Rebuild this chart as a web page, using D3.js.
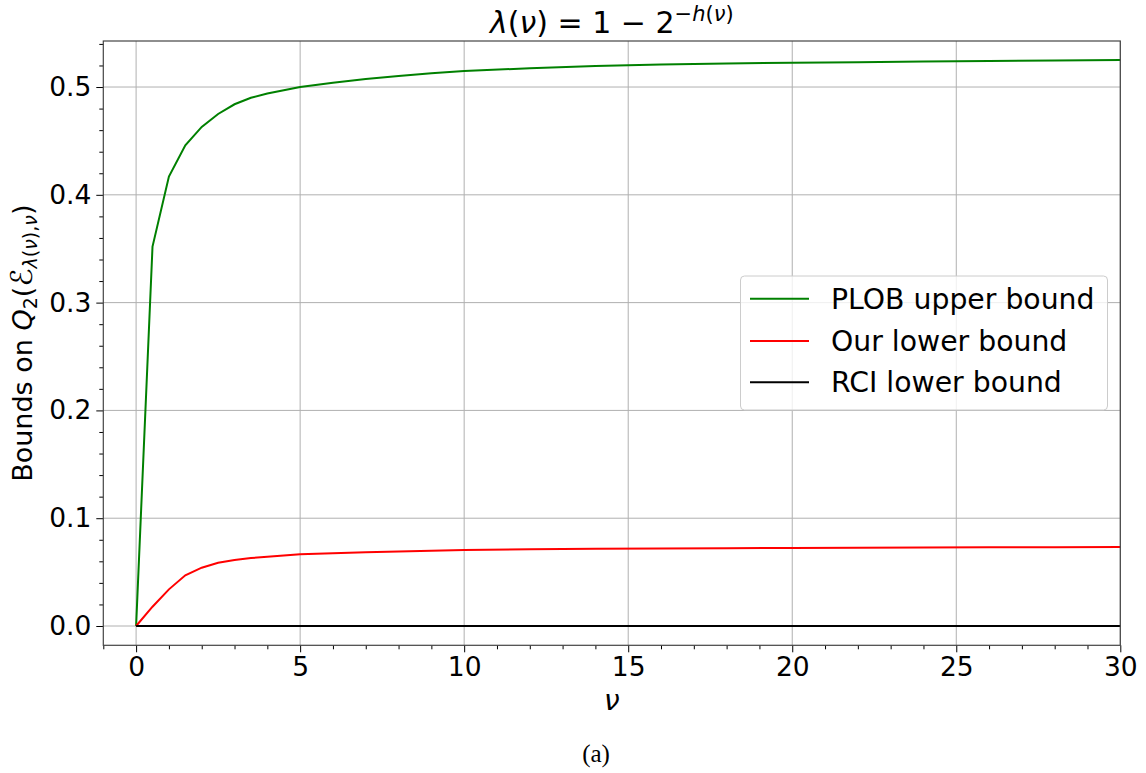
<!DOCTYPE html>
<html><head><meta charset="utf-8">
<script src="https://cdn.jsdelivr.net/npm/d3@7"></script>
<style>
html,body{margin:0;padding:0;background:#fff;}
svg{display:block;}
text{fill:#000;}
</style></head>
<body>
<svg id="c" width="1146" height="773" font-family="DejaVu Sans, sans-serif"></svg>
<script>
const nu = [0,0.5,1,1.5,2,2.5,3,3.5,4,4.5,5,6,7,8,9,10,12,14,16,18,20,22,24,26,28,30];
const plob = [0,0.352,0.417,0.446,0.463,0.475,0.484,0.490,0.494,0.497,0.500,0.504,0.5074,0.5102,0.5127,0.5148,0.5175,0.5195,0.5208,0.5218,0.5225,0.5231,0.5237,0.5242,0.5246,0.5250];
const ours = [0,0.0179,0.034,0.047,0.0541,0.0587,0.0612,0.063,0.0642,0.0655,0.0665,0.0676,0.0684,0.0692,0.0698,0.0705,0.0711,0.0716,0.0719,0.0722,0.0724,0.0726,0.0728,0.073,0.0731,0.0733];
const rci = [0,0,0,0,0,0,0,0,0,0,0,0,0,0,0,0,0,0,0,0,0,0,0,0,0,0];
const xTicks = [0,5,10,15,20,25,30];
const yTicks = [0,0.1,0.2,0.3,0.4,0.5];
const seriesNames = ["PLOB upper bound","Our lower bound","RCI lower bound"];
const seriesColors = ["#008000","#ff0000","#000000"];

const svg = d3.select("#c");
const L=103.3, R=1120.3, T=41, B=645.3;
const x = d3.scaleLinear().domain([-1,30]).range([L,R]);
const y = d3.scaleLinear().domain([-0.0179,0.5427]).range([B,T]);

// grid
const g = svg.append("g");
g.selectAll(".gx").data(xTicks).join("line")
  .attr("x1",d=>x(d)).attr("x2",d=>x(d)).attr("y1",T).attr("y2",B)
  .attr("stroke","#b0b0b0").attr("stroke-width",1);
g.selectAll(".gy").data(yTicks).join("line")
  .attr("y1",d=>y(d)).attr("y2",d=>y(d)).attr("x1",L).attr("x2",R)
  .attr("stroke","#b0b0b0").attr("stroke-width",1);

// lines
const series = [plob, ours, rci];
const line = d3.line().x((d,i)=>x(nu[i])).y(d=>y(d));
series.forEach((s,k)=>{
  svg.append("path").datum(s).attr("d",line).attr("fill","none")
    .attr("stroke",seriesColors[k]).attr("stroke-width",2);
});

// axes
const xMinor = d3.range(-1,31,1).filter(v=>v%5!==0);
const yMinor = d3.range(0,0.541,0.02).filter(v=>Math.abs(v*10-Math.round(v*10))>1e-6);
const xAxis = svg.append("g").attr("transform",`translate(0,${B})`)
  .call(d3.axisBottom(x).tickValues(xTicks).tickFormat(d3.format("d")).tickSize(7).tickPadding(5));
const xAxisMinor = svg.append("g").attr("transform",`translate(0,${B})`)
  .call(d3.axisBottom(x).tickValues(xMinor).tickFormat("").tickSize(4));
const yAxis = svg.append("g").attr("transform",`translate(${L},0)`)
  .call(d3.axisLeft(y).tickValues(yTicks).tickFormat(d3.format(".1f")).tickSize(7).tickPadding(5));
const yAxisMinor = svg.append("g").attr("transform",`translate(${L},0)`)
  .call(d3.axisLeft(y).tickValues(yMinor).tickFormat("").tickSize(4));
[xAxis,xAxisMinor,yAxis,yAxisMinor].forEach(a=>{
  a.attr("font-family","DejaVu Sans, sans-serif");
  a.select(".domain").remove();
  a.selectAll(".tick line").attr("stroke","#000").attr("stroke-width",1);
  a.selectAll(".tick text").attr("font-size",26.5).attr("fill","#000");
});
// spines
svg.append("rect").attr("x",L).attr("y",T).attr("width",R-L).attr("height",B-T)
  .attr("fill","none").attr("stroke","#444").attr("stroke-width",1.2);

// title
const title = svg.append("text").attr("x",(L+R)/2).attr("y",33).attr("text-anchor","middle").attr("font-size",30);
title.append("tspan").attr("font-style","italic").text("λ");
title.append("tspan").text("(");
title.append("tspan").attr("font-style","italic").text("ν");
title.append("tspan").text(") = 1 − 2");
title.append("tspan").attr("font-size",21).attr("dy",-12).attr("font-style","italic").text("−h");
title.append("tspan").attr("font-size",21).text("(");
title.append("tspan").attr("font-size",21).attr("font-style","italic").text("ν");
title.append("tspan").attr("font-size",21).text(")");

// x label
svg.append("text").attr("x",(L+R)/2).attr("y",710).attr("text-anchor","middle")
  .attr("font-size",28).attr("font-style","italic").text("ν");

// y label
const yl = svg.append("text").attr("transform",`translate(32,${(T+B)/2}) rotate(-90)`)
  .attr("text-anchor","middle").attr("font-size",27);
yl.append("tspan").text("Bounds on ");
yl.append("tspan").attr("font-style","italic").text("Q");
yl.append("tspan").attr("font-size",19).attr("dy",5).text("2");
yl.append("tspan").attr("dy",-5).text("(");
yl.append("tspan").attr("font-style","italic").attr("font-size",30).text("ℰ");
yl.append("tspan").attr("font-size",19).attr("dy",5).attr("font-style","italic").text("λ");
yl.append("tspan").attr("font-size",19).text("(");
yl.append("tspan").attr("font-size",19).attr("font-style","italic").text("ν");
yl.append("tspan").attr("font-size",19).text("),");
yl.append("tspan").attr("font-size",19).attr("font-style","italic").text("ν");
yl.append("tspan").attr("dy",-5).text(")");

// legend
const lg = svg.append("g");
lg.append("rect").attr("x",740.5).attr("y",276).attr("width",367).attr("height",134)
  .attr("rx",4).attr("fill","#fff").attr("fill-opacity",0.8).attr("stroke","#cccccc").attr("stroke-width",1);
const rows = [298.7,341,382.3];
seriesNames.forEach((n,k)=>{
  lg.append("line").attr("x1",750).attr("x2",809).attr("y1",rows[k]).attr("y2",rows[k])
    .attr("stroke",seriesColors[k]).attr("stroke-width",2);
  lg.append("text").attr("x",831).attr("y",rows[k]+10).attr("font-size",28.3).text(n);
});

// caption
svg.append("text").attr("x",596).attr("y",762).attr("text-anchor","middle")
  .attr("font-family","Liberation Serif, serif").attr("font-size",25).text("(a)");
</script>
</body></html>
